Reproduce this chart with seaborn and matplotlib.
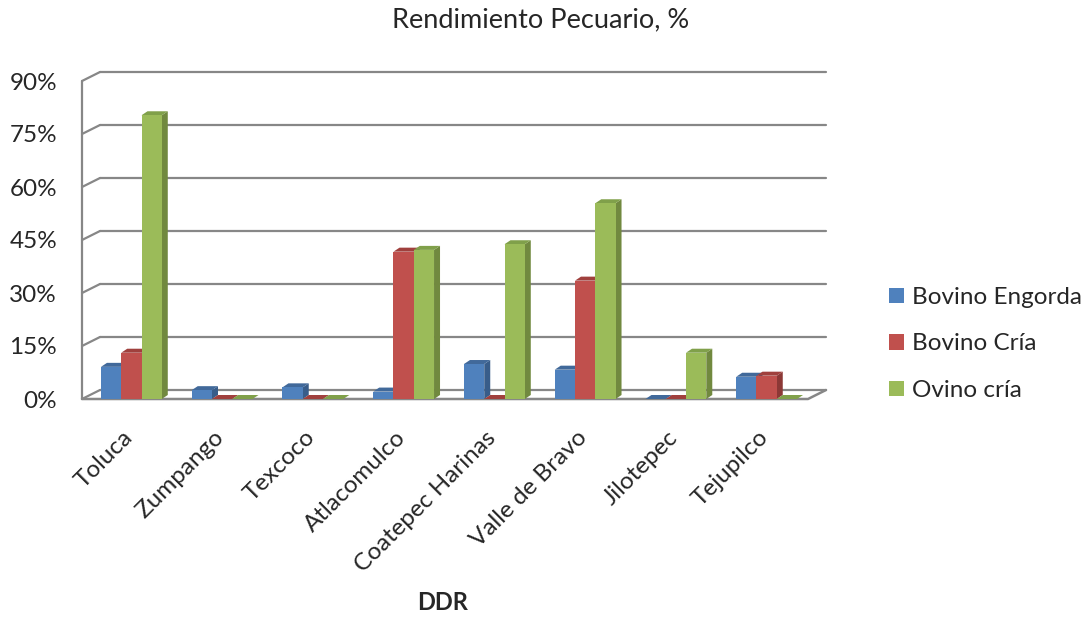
import pandas as pd
import matplotlib
matplotlib.use('Agg')
import matplotlib.pyplot as plt
import matplotlib.transforms as mtransforms
from matplotlib.patches import Polygon
import seaborn as sns

# data (percent)
ddr = ['Toluca', 'Zumpango', 'Texcoco', 'Atlacomulco', 'Coatepec Harinas',
       'Valle de Bravo', 'Jilotepec', 'Tejupilco']
bovino_engorda = [9.1, 2.5, 3.3, 2.1, 9.9, 8.3, 0.0, 6.3]
bovino_cria = [13.1, 0.0, 0.0, 41.7, 0.0, 33.5, 0.0, 6.6]
ovino_cria = [80.3, 0.0, 0.0, 42.2, 43.8, 55.4, 13.1, 0.0]
series = ['Bovino Engorda', 'Bovino Cría', 'Ovino cría']
yticks = [0, 15, 30, 45, 60, 75, 90]

front_cols = ['#4F81BD', '#C0504D', '#9BBB59']
side_cols = ['#385D8A', '#8C3836', '#71893F']
top_cols = ['#41699A', '#A0403D', '#80A04A']

df = pd.DataFrame({'DDR': ddr * 3,
                   'Serie': [s for s in series for _ in ddr],
                   'Valor': bovino_engorda + bovino_cria + ovino_cria})

sns.set_style('white')
plt.rcParams['font.family'] = ['Lato', 'DejaVu Sans']
fs = 17.5

W, H = 1086, 617
fig = plt.figure(figsize=(W / 100, H / 100), dpi=100)
x0, x1, y0, y1 = 82, 808, 399, 81  # front plane in pixels
ax = fig.add_axes([x0 / W, 1 - y0 / H, (x1 - x0) / W, (y0 - y1) / H])

sns.barplot(data=df, x='DDR', y='Valor', hue='Serie', order=ddr, hue_order=series,
            palette=front_cols, saturation=1, width=0.67, gap=0, linewidth=0,
            errorbar=None, ax=ax, zorder=3)

# pixel -> data conversion for the fake depth
px_x = len(ddr) / (x1 - x0)
px_y = 90 / (y0 - y1)
xa, xb = -0.5 - 4 * px_x, len(ddr) - 0.5 - 4 * px_x
ax.set_xlim(xa, xb)
ax.set_ylim(0, 90)
wdx, wdy = 18 * px_x, 9 * px_y   # back wall offset
bdx, bdy = 6 * px_x, 4 * px_y    # bar depth

grid = '#878787'
for v in yticks:
    ax.plot([xa + wdx, xb + wdx], [v + wdy, v + wdy], color=grid,
            lw=1.6, clip_on=False, zorder=1)
    ax.plot([xa, xa + wdx], [v, v + wdy], color=grid, lw=1.6, clip_on=False, zorder=1)
ax.plot([xa, xa], [0, 90], color=grid, lw=1.6, clip_on=False, zorder=1)
ax.plot([xa, xb, xb + wdx], [0, 0, wdy], color=grid, lw=1.8, clip_on=False, zorder=1)

# side and top faces derived from the bar patches
for i, s in enumerate(series):
    for p in ax.containers[i]:
        bx, bw, bh = p.get_x(), p.get_width(), p.get_height()
        side = [(bx + bw, 0), (bx + bw + bdx, bdy), (bx + bw + bdx, bh + bdy), (bx + bw, bh)]
        top = [(bx, bh), (bx + bdx, bh + bdy), (bx + bw + bdx, bh + bdy), (bx + bw, bh)]
        ax.add_patch(Polygon(side, closed=True, fc=side_cols[i], ec='none', zorder=2))
        ax.add_patch(Polygon(top, closed=True, fc=top_cols[i], ec='none', zorder=2))

ax.set_yticks(yticks)
ax.set_yticklabels([f'{v}%' for v in yticks], fontsize=fs)
ax.tick_params(axis='y', length=0, pad=18)
ax.tick_params(axis='x', length=0, pad=20)
ax.set_xticks(range(len(ddr)))
ax.set_xticklabels(ddr, rotation=45, ha='right', rotation_mode='anchor', fontsize=fs)
shift = mtransforms.ScaledTranslation(-9 / 100, 0, fig.dpi_scale_trans)
for lab in ax.get_xticklabels():
    lab.set_transform(lab.get_transform() + shift)
sns.despine(ax=ax, left=True, bottom=True)
ax.set_xlabel('')
ax.set_ylabel('')

fig.text(443 / W, 1 - 603 / H, 'DDR', fontsize=17, fontweight='bold', ha='center', va='center')
fig.text(541 / W, 1 - 20 / H, 'Rendimiento Pecuario, %', fontsize=19.5, ha='center', va='center')

handles, labels = ax.get_legend_handles_labels()
ax.legend(handles, labels, loc='center left', bbox_to_anchor=(889 / W, 1 - 344 / H),
          bbox_transform=fig.transFigure, frameon=False, fontsize=fs,
          borderaxespad=0, borderpad=0,
          handlelength=0.6, handleheight=0.6, handletextpad=0.35, labelspacing=1.05)

fig.savefig('out.png', dpi=100)
